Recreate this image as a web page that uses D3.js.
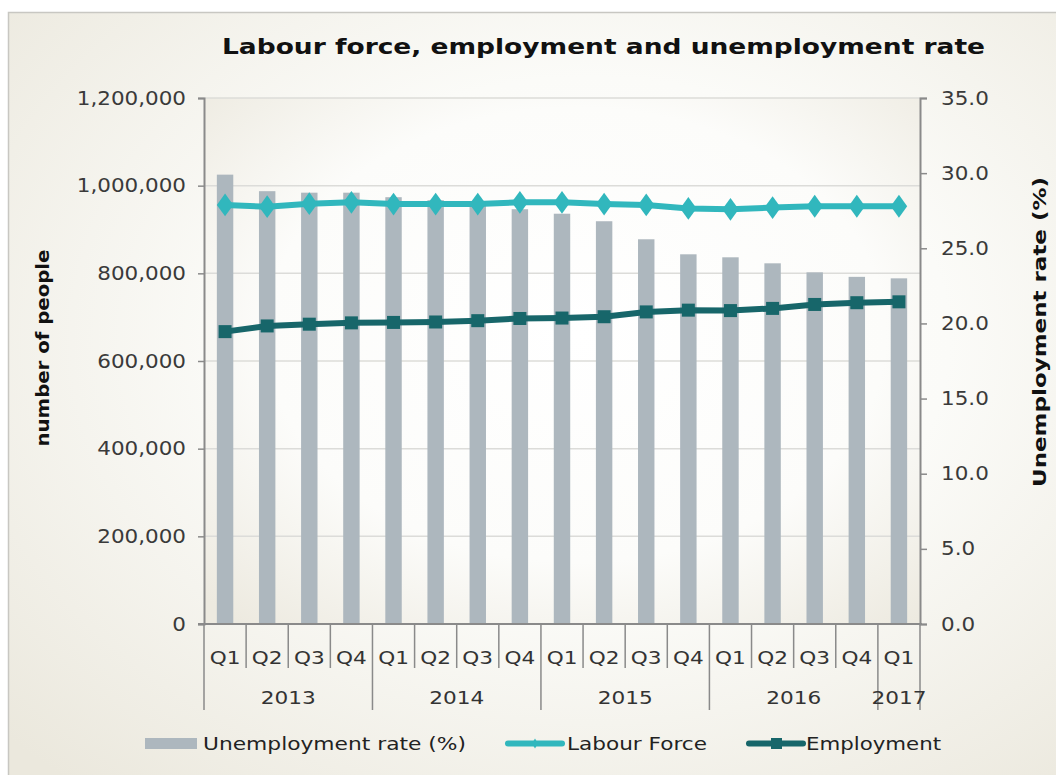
<!DOCTYPE html>
<html>
<head>
<meta charset="utf-8">
<script src="https://d3js.org/d3.v7.min.js"></script>
<style>
  body { margin: 0; background: #fff; }
  text { font-family: Verdana, "DejaVu Sans", sans-serif; fill: #333; }
</style>
</head>
<body>
<script>
// chart data
var quarters = ["Q1","Q2","Q3","Q4","Q1","Q2","Q3","Q4","Q1","Q2","Q3","Q4","Q1","Q2","Q3","Q4","Q1"];
var years    = ["2013","2013","2013","2013","2014","2014","2014","2014","2015","2015","2015","2015","2016","2016","2016","2016","2017"];
var unemploymentRate = [29.9, 28.8, 28.7, 28.7, 28.4, 28.2, 27.9, 27.6, 27.3, 26.8, 25.6, 24.6, 24.4, 24.0, 23.4, 23.1, 23.0];
var labourForce = [956000, 952000, 959000, 962000, 958000, 958000, 958000, 962000, 962000, 958000, 956000, 948000, 946000, 950000, 953000, 953000, 953000];
var employment  = [667000, 680000, 684000, 687000, 688000, 689000, 692000, 697000, 698000, 701000, 712000, 716000, 715000, 720000, 729000, 733000, 735000];
var leftTicks  = [0, 200000, 400000, 600000, 800000, 1000000, 1200000];
var rightTicks = [0, 5, 10, 15, 20, 25, 30, 35];

var W = 1056, H = 775;
var x0 = 204, x1 = 920, yTop = 98, yBot = 624;

// the original renders its text a bit wider than DejaVu does
function stretch(sel, f) {
  sel.each(function() {
    var w = this.getComputedTextLength();
    d3.select(this).attr("textLength", w * f).attr("lengthAdjust", "spacingAndGlyphs");
  });
}

var svg = d3.select("body").append("svg")
    .attr("width", W).attr("height", H);

var defs = svg.append("defs");
var bg = defs.append("radialGradient").attr("id", "bgGrad")
    .attr("cx", "55%").attr("cy", "42%").attr("r", "75%");
bg.append("stop").attr("offset", "0%").attr("stop-color", "#ffffff");
bg.append("stop").attr("offset", "45%").attr("stop-color", "#fbfbf8");
bg.append("stop").attr("offset", "100%").attr("stop-color", "#ebe8dd");

var pg = defs.append("radialGradient").attr("id", "plotGrad")
    .attr("cx", "52%").attr("cy", "45%").attr("r", "72%");
pg.append("stop").attr("offset", "0%").attr("stop-color", "#ffffff");
pg.append("stop").attr("offset", "60%").attr("stop-color", "#fcfcfa");
pg.append("stop").attr("offset", "100%").attr("stop-color", "#edeae0");

// chart frame
svg.append("rect")
    .attr("x", 8.5).attr("y", 12.5).attr("width", 1060).attr("height", 780)
    .attr("fill", "url(#bgGrad)").attr("stroke", "#c8c7c2").attr("stroke-width", 1.5);

svg.append("rect")
    .attr("x", x0).attr("y", yTop).attr("width", x1 - x0).attr("height", yBot - yTop)
    .attr("fill", "url(#plotGrad)");

// title
svg.append("text")
    .attr("x", 603.5).attr("y", 54)
    .attr("text-anchor", "middle")
    .attr("textLength", 763).attr("lengthAdjust", "spacingAndGlyphs")
    .style("font-size", "22px").style("font-weight", "bold").style("fill", "#111")
    .text("Labour force, employment and unemployment rate");

// scales
var x = d3.scaleBand().domain(d3.range(quarters.length)).range([x0, x1]);
var yL = d3.scaleLinear().domain([0, 1200000]).range([yBot, yTop]);
var yR = d3.scaleLinear().domain([0, 35]).range([yBot, yTop]);

// gridlines
svg.append("g").selectAll("line")
    .data(leftTicks.slice(1))
    .enter().append("line")
    .attr("x1", x0).attr("x2", x1)
    .attr("y1", function(d) { return yL(d); }).attr("y2", function(d) { return yL(d); })
    .attr("stroke", "#dcdcd9").attr("stroke-width", 1.5);

// bars
var bw = x.bandwidth() * 0.39;
svg.append("g").selectAll("rect")
    .data(unemploymentRate)
    .enter().append("rect")
    .attr("x", function(d, i) { return x(i) + x.bandwidth() / 2 - bw / 2; })
    .attr("y", function(d) { return yR(d); })
    .attr("width", bw)
    .attr("height", function(d) { return yBot - yR(d); })
    .attr("fill", "#adb7be");

// axes
var leftAxis = d3.axisLeft(yL).tickValues(leftTicks).tickSize(6).tickPadding(12)
    .tickFormat(d3.format(","));
var gl = svg.append("g").attr("transform", "translate(" + x0 + ",0)").call(leftAxis);

var rightAxis = d3.axisRight(yR).tickValues(rightTicks).tickSize(7).tickPadding(14)
    .tickFormat(d3.format(".1f"));
var gr = svg.append("g").attr("transform", "translate(" + x1 + ",0)").call(rightAxis);

[gl, gr].forEach(function(g) {
  g.select(".domain").attr("stroke", "#8a8a8a").attr("stroke-width", 2);
  g.selectAll(".tick line").attr("stroke", "#8a8a8a").attr("stroke-width", 1.5);
  g.selectAll(".tick text").style("font-size", "19px").style("fill", "#3a3a3a")
    .style("font-family", "Verdana, 'DejaVu Sans', sans-serif");
  stretch(g.selectAll(".tick text"), 1.13);
});

// axis titles
svg.append("text")
    .attr("transform", "translate(49,348) rotate(-90)")
    .attr("text-anchor", "middle")
    .attr("textLength", 197).attr("lengthAdjust", "spacingAndGlyphs")
    .style("font-size", "18px").style("font-weight", "bold").style("fill", "#111")
    .text("number of people");

svg.append("text")
    .attr("transform", "translate(1046,332) rotate(-90)")
    .attr("text-anchor", "middle")
    .attr("textLength", 310).attr("lengthAdjust", "spacingAndGlyphs")
    .style("font-size", "18px").style("font-weight", "bold").style("fill", "#111")
    .text("Unemployment rate (%)");

// category axis: x baseline, quarter and year labels
var xa = svg.append("g");
xa.append("line")
    .attr("x1", x0 - 6).attr("x2", x1 + 2).attr("y1", yBot).attr("y2", yBot)
    .attr("stroke", "#8a8a8a").attr("stroke-width", 2);

var bounds = d3.range(quarters.length + 1);
xa.selectAll("line.sep")
    .data(bounds)
    .enter().append("line")
    .attr("class", "sep")
    .attr("x1", function(i) { return i < quarters.length ? x(i) : x1; })
    .attr("x2", function(i) { return i < quarters.length ? x(i) : x1; })
    .attr("y1", yBot)
    .attr("y2", function(i) {
      var yearEdge = i === 0 || i === quarters.length || years[i] !== years[i - 1];
      return yearEdge ? 710 : 668;
    })
    .attr("stroke", "#8a8a8a").attr("stroke-width", 1.5);

xa.selectAll("text.q")
    .data(quarters)
    .enter().append("text")
    .attr("class", "q")
    .attr("x", function(d, i) { return x(i) + x.bandwidth() / 2; })
    .attr("y", 664)
    .attr("text-anchor", "middle")
    .style("font-size", "18px").style("fill", "#333")
    .text(function(d) { return d; });

var groups = [];
years.forEach(function(yv, i) {
  if (!groups.length || groups[groups.length - 1].year !== yv) groups.push({ year: yv, start: i, end: i });
  else groups[groups.length - 1].end = i;
});
xa.selectAll("text.yr")
    .data(groups)
    .enter().append("text")
    .attr("class", "yr")
    .attr("x", function(d) { return (x(d.start) + x(d.end) + x.bandwidth()) / 2; })
    .attr("y", 704)
    .attr("text-anchor", "middle")
    .style("font-size", "18px").style("fill", "#333")
    .text(function(d) { return d.year; });

stretch(xa.selectAll("text"), 1.2);

// lines
var lfColor = "#31b7bd", emColor = "#17666a";

var lineL = d3.line()
    .x(function(d, i) { return x(i) + x.bandwidth() / 2; })
    .y(function(d) { return yL(d); });

svg.append("path").datum(labourForce)
    .attr("d", lineL).attr("fill", "none")
    .attr("stroke", lfColor).attr("stroke-width", 6).attr("stroke-linejoin", "round");
svg.append("path").datum(employment)
    .attr("d", lineL).attr("fill", "none")
    .attr("stroke", emColor).attr("stroke-width", 6).attr("stroke-linejoin", "round");

var diamond = d3.symbol().type(d3.symbolDiamond).size(150);
svg.append("g").selectAll("path")
    .data(labourForce)
    .enter().append("path")
    .attr("d", diamond)
    .attr("transform", function(d, i) {
      return "translate(" + (x(i) + x.bandwidth() / 2) + "," + yL(d) + ") scale(1.25,1)";
    })
    .attr("fill", lfColor);

svg.append("g").selectAll("rect")
    .data(employment)
    .enter().append("rect")
    .attr("x", function(d, i) { return x(i) + x.bandwidth() / 2 - 6.5; })
    .attr("y", function(d) { return yL(d) - 6.5; })
    .attr("width", 13).attr("height", 13)
    .attr("fill", emColor);

// legend
var lg = svg.append("g");
lg.append("rect").attr("x", 145).attr("y", 738).attr("width", 52).attr("height", 11).attr("fill", "#adb7be");
lg.append("text").attr("x", 203).attr("y", 750)
    .attr("textLength", 263).attr("lengthAdjust", "spacingAndGlyphs")
    .style("font-size", "18px").style("fill", "#222")
    .text("Unemployment rate (%)");

lg.append("line").attr("x1", 508).attr("x2", 562).attr("y1", 743.5).attr("y2", 743.5)
    .attr("stroke", lfColor).attr("stroke-width", 6).attr("stroke-linecap", "round");
lg.append("path").attr("d", d3.symbol().type(d3.symbolDiamond).size(30))
    .attr("transform", "translate(535,743.5)").attr("fill", lfColor);
lg.append("text").attr("x", 567).attr("y", 750)
    .attr("textLength", 140).attr("lengthAdjust", "spacingAndGlyphs")
    .style("font-size", "18px").style("fill", "#222")
    .text("Labour Force");

lg.append("line").attr("x1", 749).attr("x2", 803).attr("y1", 743.5).attr("y2", 743.5)
    .attr("stroke", emColor).attr("stroke-width", 6).attr("stroke-linecap", "round");
lg.append("rect").attr("x", 771).attr("y", 738).attr("width", 11).attr("height", 11).attr("fill", emColor);
lg.append("text").attr("x", 806).attr("y", 750)
    .attr("textLength", 135).attr("lengthAdjust", "spacingAndGlyphs")
    .style("font-size", "18px").style("fill", "#222")
    .text("Employment");
</script>
</body>
</html>
